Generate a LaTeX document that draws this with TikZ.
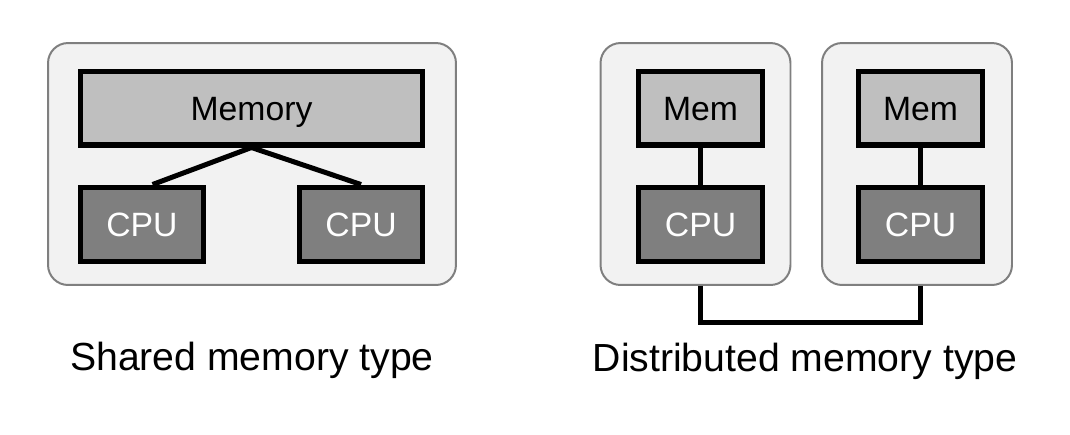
\documentclass[tikz,border=0pt]{standalone}
\usepackage{fontspec}
\setmainfont{Liberation Sans}
\usepackage{tikz}

\definecolor{panelfill}{HTML}{F2F2F2}
\definecolor{paneledge}{HTML}{7F7F7F}
\definecolor{memfill}{HTML}{BFBFBF}
\definecolor{cpufill}{HTML}{7F7F7F}

\begin{document}
\begin{tikzpicture}[x=0.02cm, y=-0.02cm,
                    panel/.style = {draw=paneledge, fill=panelfill, line width=1.13pt, rounded corners=0.4cm, minimum height=4.84cm},
                    unit/.style = {draw=black, line width=2.85pt, minimum width=2.48cm, minimum height=1.48cm,
                                   font=\fontsize{19.2}{23}\selectfont, text height=0.484cm, text depth=0pt},
                    membox/.style = {unit, fill=memfill},
                    cpubox/.style = {unit, fill=cpufill, text=white},
                    wire/.style = {line width=2.85pt},
                    caption/.style = {anchor=base, font=\fontsize{22.3}{27}\selectfont}]
        \useasboundingbox (0,0) rectangle (1070,434);
        % shared memory
        \node[panel, minimum width=8.16cm] (shared) at (252,164) {};
        \node[membox, minimum width=6.84cm] (mem) at (251.5,108) {Memory};
        \node[cpubox] (cpuL) at (142,224) {CPU};
        \node[cpubox] (cpuR) at (361,224) {CPU};
        \draw[wire] (mem.south) -- (cpuL.75);
        \draw[wire] (mem.south) -- (cpuR.north);
        \node[caption] (sharedlabel) at (252,370) {Shared memory type};
        % distributed memory
        \node[panel, minimum width=3.8cm] (distA) at (695.5,164) {};
        \node[panel, minimum width=3.8cm] (distB) at (917,164) {};
        \node[membox] (memA) at (700.5,108) {Mem};
        \node[membox] (memB) at (920.5,108) {Mem};
        \node[cpubox] (cpuA) at (700.5,224) {CPU};
        \node[cpubox] (cpuB) at (920.5,224) {CPU};
        \draw[wire] (memA) -- (cpuA);
        \draw[wire] (memB) -- (cpuB);
        \coordinate (bus) at (811,322);
        \draw[wire] (distA.south -| cpuA) |- (bus) -| (distB.south -| cpuB);
        \node[caption] (distlabel) at (805,371) {Distributed memory type};
    \end{tikzpicture}
\end{document}
